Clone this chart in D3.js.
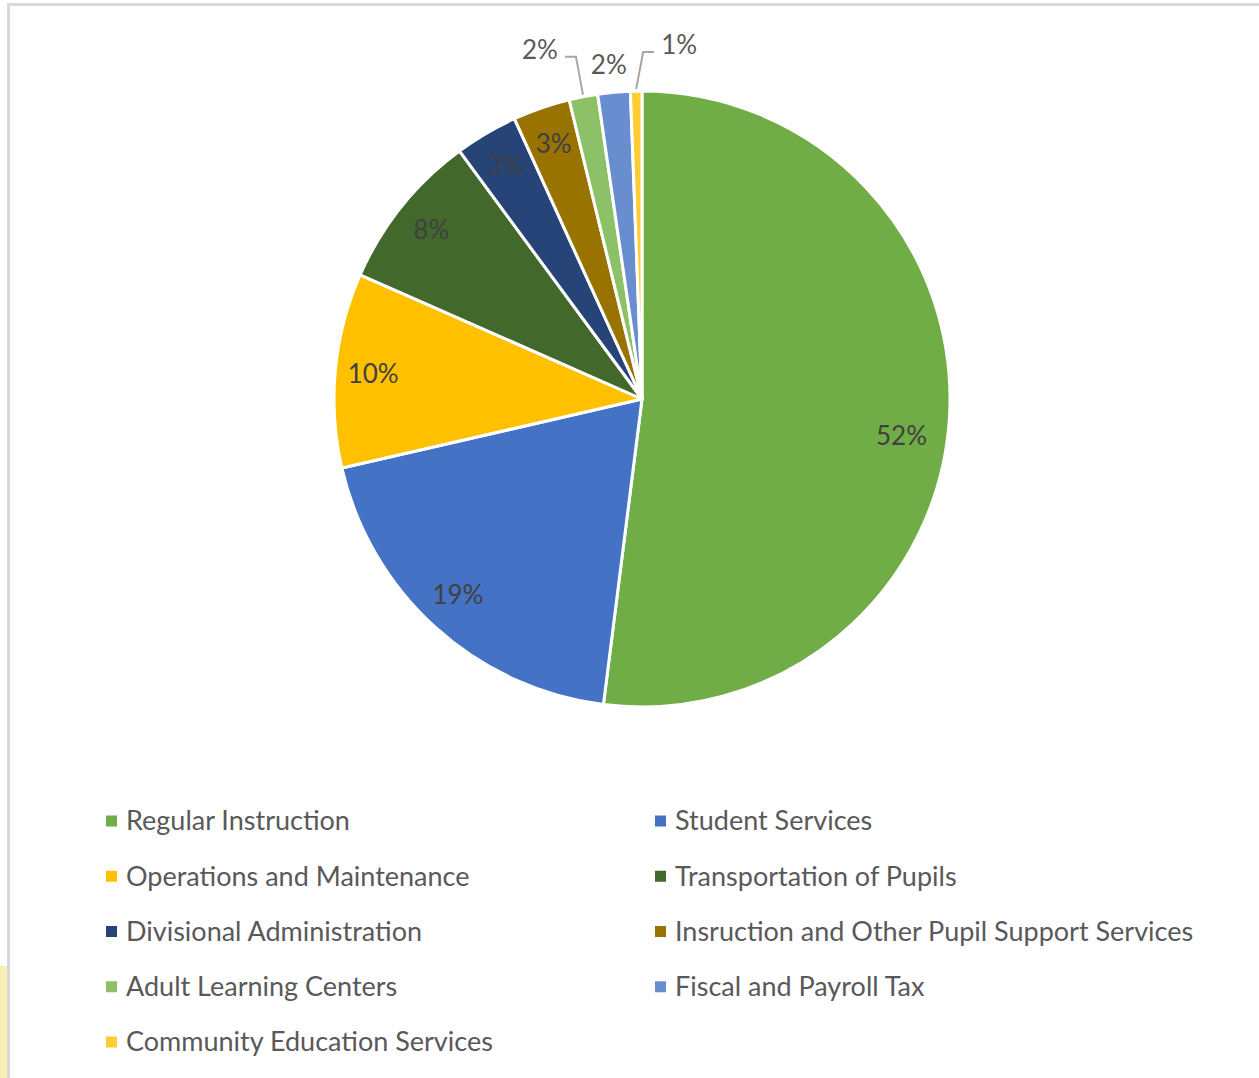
<!DOCTYPE html>
<html>
<head>
<meta charset="utf-8">
<script src="https://cdn.jsdelivr.net/npm/d3@7"></script>
<style>
  body { margin: 0; background: #fff; }
  svg { display: block; }
</style>
</head>
<body>
<svg width="1259" height="1078"></svg>
<script>
// data (percent of total)
let categories = [
    'Regular Instruction', 'Student Services', 'Operations and Maintenance',
    'Transportation of Pupils', 'Divisional Administration',
    'Insruction and Other Pupil Support Services', 'Adult Learning Centers',
    'Fiscal and Payroll Tax', 'Community Education Services'
];
let shares = [52.0, 19.4, 10.2, 8.3, 3.3, 3.0, 1.5, 1.7, 0.6];
let colors = ['#70AD47', '#4472C4', '#FFC000', '#43682B', '#264478',
              '#997300', '#8CC168', '#698ED0', '#FFCD33'];

let data = categories.map((c, i) => ({name: c, value: shares[i]}));

let svg = d3.select('svg');
let width = +svg.attr('width');
let height = +svg.attr('height');

// background bits: yellow strip on the left, grey frame
svg.append('rect').attr('x', 0).attr('y', 966).attr('width', 8).attr('height', height - 966)
    .attr('fill', '#FBEFB5');
svg.append('line').attr('x1', 8).attr('x2', width).attr('y1', 4.5).attr('y2', 4.5)
    .attr('stroke', '#D9D9D9').attr('stroke-width', 3);
svg.append('line').attr('x1', 8.5).attr('x2', 8.5).attr('y1', 3).attr('y2', height)
    .attr('stroke', '#D9D9D9').attr('stroke-width', 3);

let cx = 642, cy = 399, radius = 308;
let font = 'Lato, "Open Sans", sans-serif';

let color = d3.scaleOrdinal().domain(categories).range(colors);
let total = d3.sum(shares);
let fmt = v => d3.format('.0%')(v / total);

let pie = d3.pie().value(d => d.value).sort(null);
let arcs = pie(data);
let arc = d3.arc().innerRadius(0).outerRadius(radius);
let labelArc = d3.arc().innerRadius(270).outerRadius(270);
let edgeArc = d3.arc().innerRadius(radius + 2).outerRadius(radius + 2);

let g = svg.append('g').attr('transform', `translate(${cx},${cy})`);

g.selectAll('path.slice').data(arcs)
    .enter().append('path')
    .attr('class', 'slice')
    .attr('d', arc)
    .attr('fill', d => color(d.data.name))
    .attr('stroke', '#fff')
    .attr('stroke-width', 3)
    .attr('stroke-linejoin', 'round');

// inside labels for the bigger slices
let inside = arcs.filter(d => d.data.value >= 2.5);
g.selectAll('text.inlabel').data(inside)
    .enter().append('text')
    .attr('class', 'inlabel')
    .attr('transform', d => {
        let [x, y] = labelArc.centroid(d);
        if (d.index === 0) { x -= 10; y += 20; }
        if (d.index === 1) { x -= 3; y -= 4; }
        return `translate(${x},${y})`;
    })
    .attr('text-anchor', 'middle')
    .attr('dy', '0.35em')
    .attr('font-family', font)
    .attr('font-size', 26)
    .attr('fill', '#404040')
    .text(d => fmt(d.data.value));

// outside labels for the tiny slices
let outside = arcs.filter(d => d.data.value < 2.5);
// label offset from the slice edge point, and which side the leader bends to
let place = {
    'Adult Learning Centers': {lx: -43, ly: -45, leader: true, side: -1},
    'Fiscal and Payroll Tax': {lx: -5, ly: -25, leader: false},
    'Community Education Services': {lx: 43, ly: -44, leader: true, side: 1}
};
outside.forEach(d => {
    let [ex, ey] = edgeArc.centroid(d);
    let p = place[d.data.name];
    let tx = ex + p.lx, ty = ey + p.ly;
    if (p.leader) {
        let elbowY = ty + 7;
        let elbowX = ex + p.side * 7;
        let startX = tx - p.side * 25;
        g.append('polyline')
            .attr('points', [[startX, elbowY], [elbowX, elbowY], [ex, ey]].map(q => q.join(',')).join(' '))
            .attr('fill', 'none')
            .attr('stroke', '#A6A6A6')
            .attr('stroke-width', 2);
    }
    g.append('text')
        .attr('x', tx).attr('y', ty)
        .attr('text-anchor', 'middle')
        .attr('dy', '0.35em')
        .attr('font-family', font)
        .attr('font-size', 26)
        .attr('fill', '#595959')
        .text(fmt(d.data.value));
});

// legend, two columns
let cols = d3.scaleOrdinal().domain([0, 1]).range([106, 655]);
let rows = d3.scalePoint().domain(d3.range(5)).range([821, 1042]);

let legend = svg.append('g').selectAll('g').data(data)
    .enter().append('g')
    .attr('transform', (d, i) => `translate(${cols(i % 2)},${rows(Math.floor(i / 2))})`);

legend.append('rect')
    .attr('x', 0).attr('y', -5.5)
    .attr('width', 11).attr('height', 11)
    .attr('fill', d => color(d.name));

legend.append('text')
    .attr('x', 20)
    .attr('dy', '0.35em')
    .attr('font-family', font)
    .attr('font-size', 27)
    .attr('fill', '#595959')
    .text(d => d.name);
</script>
</body>
</html>
